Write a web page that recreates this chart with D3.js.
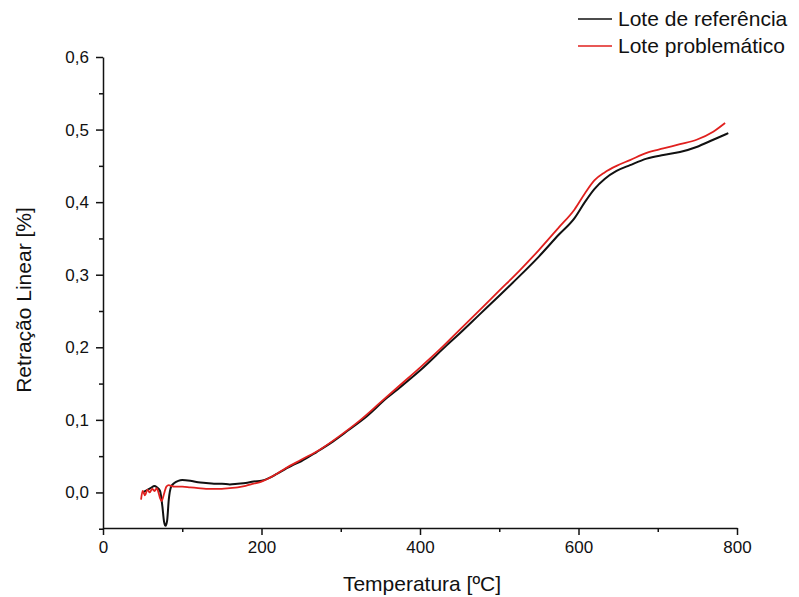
<!DOCTYPE html>
<html>
<head>
<meta charset="utf-8">
<script src="https://cdn.jsdelivr.net/npm/d3@7"></script>
<style>
  body { margin: 0; background: #fff; }
  text { font-family: "Liberation Sans", Arial, sans-serif; fill: #111; }
</style>
</head>
<body>
<script>
// Chart Params
var svgWidth = 799;
var svgHeight = 597;
var margin = { top: 57, right: 62, bottom: 69, left: 103 };
var width = svgWidth - margin.left - margin.right;
var height = svgHeight - margin.top - margin.bottom;

// Data
var refTemp = [50, 55, 60, 65, 68, 72, 75, 77, 79, 81, 83, 86, 90, 95, 100, 110, 120, 130, 140, 150, 160, 170, 180, 190, 200,
  210, 220, 230, 240, 250, 270, 290, 310, 333, 358, 375, 400, 434, 450, 475, 500, 517, 550, 575, 595, 608, 620, 633, 648, 665, 686, 707, 728, 749, 770, 789];
var refShrink = [0.000, 0.003, 0.006, 0.009, 0.007, 0.002, -0.020, -0.040, -0.046, -0.038, -0.010, 0.008, 0.013, 0.016, 0.017, 0.016, 0.014, 0.013, 0.012, 0.012, 0.011, 0.012, 0.013, 0.015, 0.016,
  0.020, 0.026, 0.032, 0.038, 0.043, 0.056, 0.070, 0.086, 0.105, 0.130, 0.145, 0.168, 0.203, 0.219, 0.245, 0.271, 0.289, 0.325, 0.355, 0.378, 0.400, 0.418, 0.432, 0.443, 0.451, 0.460, 0.465, 0.469, 0.476, 0.486, 0.495];

var probTemp = [48, 50, 53, 56, 59, 62, 65, 68, 70, 72, 74, 76, 78, 80, 83, 86, 90, 100, 110, 120, 130, 140, 150, 160, 170, 180, 190, 200,
  210, 220, 230, 250, 275, 300, 325, 350, 375, 400, 425, 450, 475, 500, 525, 550, 575, 595, 608, 620, 633, 648, 665, 686, 707, 728, 749, 770, 785];
var probShrink = [-0.010, 0.002, -0.004, 0.004, 0.000, 0.005, 0.002, 0.006, 0.000, -0.008, -0.012, -0.006, 0.002, 0.008, 0.010, 0.009, 0.008, 0.008, 0.007, 0.006, 0.005, 0.005, 0.005, 0.006, 0.007, 0.009, 0.012, 0.015,
  0.020, 0.026, 0.033, 0.045, 0.060, 0.079, 0.100, 0.124, 0.148, 0.172, 0.197, 0.224, 0.251, 0.278, 0.305, 0.334, 0.365, 0.390, 0.412, 0.430, 0.441, 0.450, 0.458, 0.468, 0.474, 0.480, 0.486, 0.497, 0.509];

var xTicks = [0, 200, 400, 600, 800];
var xMinor = [100, 300, 500, 700];
var yTicks = [0.0, 0.1, 0.2, 0.3, 0.4, 0.5, 0.6];
var yMinor = [-0.05, 0.05, 0.15, 0.25, 0.35, 0.45, 0.55];

var seriesNames = ["Lote de referência", "Lote problemático"];
var seriesColors = ["#111111", "#e0201e"];

var svg = d3.select("body")
  .append("svg")
  .attr("width", svgWidth)
  .attr("height", svgHeight);

var chartGroup = svg.append("g")
  .attr("transform", `translate(${margin.left}, ${margin.top})`);

var xScale = d3.scaleLinear().domain([0, 800]).range([0, width]);
var yScale = d3.scaleLinear().domain([-0.049, 0.6]).range([height, 0]);

var fmt = d => d3.format(".1f")(d).replace(".", ",");

// minor ticks first
chartGroup.append("g")
  .attr("transform", `translate(0, ${height})`)
  .call(d3.axisBottom(xScale).tickValues(xMinor).tickSize(4).tickFormat(""))
  .call(g => g.select(".domain").remove());
chartGroup.append("g")
  .call(d3.axisLeft(yScale).tickValues(yMinor).tickSize(4).tickFormat(""))
  .call(g => g.select(".domain").remove());

// major axes
chartGroup.append("g")
  .attr("transform", `translate(0, ${height})`)
  .call(d3.axisBottom(xScale).tickValues(xTicks).tickSizeInner(7).tickSizeOuter(0).tickPadding(6));
chartGroup.append("g")
  .call(d3.axisLeft(yScale).tickValues(yTicks).tickFormat(fmt).tickSizeInner(7).tickSizeOuter(0).tickPadding(7));

chartGroup.selectAll(".tick line, .domain").attr("stroke", "#111").attr("stroke-width", 1.5);
chartGroup.selectAll(".tick text").style("font-size", "17px").attr("fill", "#111");

// lines
var refData = refTemp.map((t, i) => ({ t: t, v: refShrink[i] }));
var probData = probTemp.map((t, i) => ({ t: t, v: probShrink[i] }));

var line = d3.line()
  .x(d => xScale(d.t))
  .y(d => yScale(d.v))
  .curve(d3.curveMonotoneX);

chartGroup.append("path")
  .attr("d", line(refData))
  .attr("fill", "none")
  .attr("stroke", seriesColors[0])
  .attr("stroke-width", 2);

chartGroup.append("path")
  .attr("d", line(probData))
  .attr("fill", "none")
  .attr("stroke", seriesColors[1])
  .attr("stroke-width", 1.8);

// axis titles
svg.append("text")
  .attr("x", margin.left + width / 2 + 2)
  .attr("y", 591)
  .attr("text-anchor", "middle")
  .style("font-size", "21px")
  .text("Temperatura [ºC]");

svg.append("text")
  .attr("transform", `translate(31, 300) rotate(-90)`)
  .attr("text-anchor", "middle")
  .style("font-size", "21px")
  .text("Retração Linear [%]");

// legend
var legend = svg.append("g").attr("transform", "translate(578, 19)");
seriesNames.forEach(function(name, i) {
  var row = legend.append("g").attr("transform", `translate(0, ${i * 27})`);
  row.append("line")
    .attr("x1", 0).attr("x2", 34)
    .attr("y1", 0).attr("y2", 0)
    .attr("stroke", seriesColors[i])
    .attr("stroke-width", 1.5);
  row.append("text")
    .attr("x", 40)
    .attr("y", 7)
    .style("font-size", "21px")
    .text(name);
});
</script>
</body>
</html>
